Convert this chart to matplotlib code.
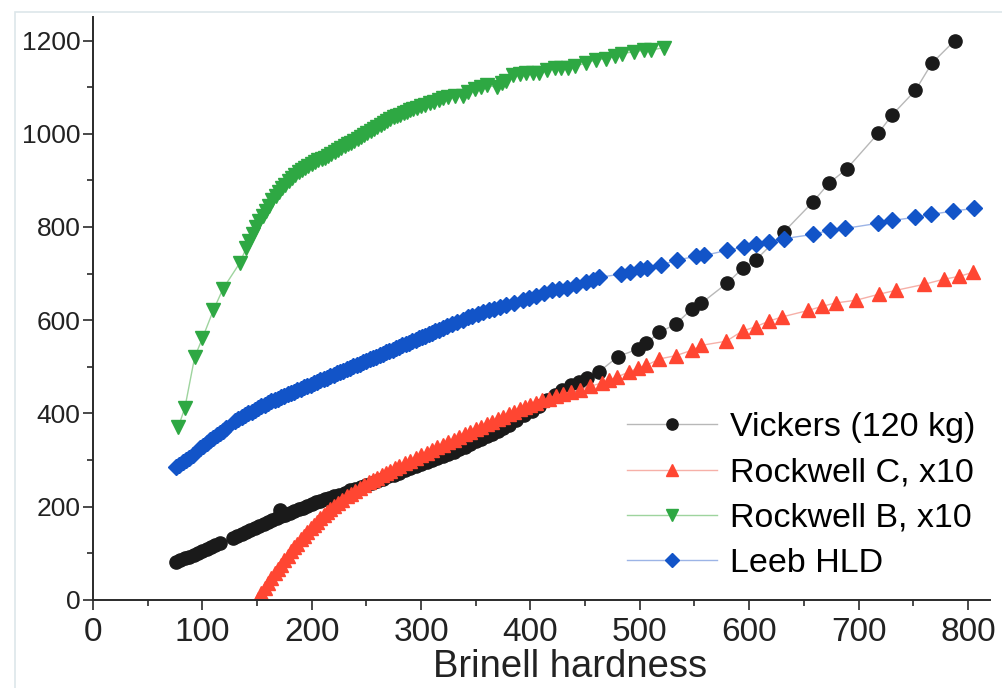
import matplotlib
matplotlib.use("Agg")
import matplotlib.pyplot as plt
from matplotlib.ticker import MultipleLocator
from matplotlib.patches import Rectangle

plt.rcParams["font.family"] = ["Liberation Sans", "DejaVu Sans"]

# Vickers (120 kg) vs Brinell
hv_x = [76, 80, 84, 88, 92, 96, 100, 104, 108, 112, 116,
        128, 132, 136, 140, 144, 148, 152, 156, 160, 164, 168, 171, 172, 176,
        180, 184, 188, 192, 196, 200, 204, 208, 212, 216, 220, 225, 230, 235,
        240, 245, 250, 255, 260, 265, 270, 275, 280, 285, 290, 295, 300, 305,
        310, 315, 320, 325, 330, 335, 340, 345, 350, 355, 360, 365, 370, 375,
        380, 387, 394, 401, 408, 415, 422, 429, 437, 444, 452, 463, 480, 498,
        506, 518, 533, 548, 556, 580, 594, 606, 632, 658, 673, 689, 718, 731,
        752, 767, 788]
hv_y = [81, 85, 89, 93, 97, 101, 105, 109, 113, 118, 122,
        133, 138, 142, 146, 150, 155, 159, 163, 167, 171, 175, 192, 179, 183,
        187, 190, 194, 198, 202, 206, 210, 213, 216, 219, 222, 226, 230, 235,
        239, 243, 247, 251, 256, 260, 265, 269, 273, 278, 283, 287, 292, 296,
        301, 305, 309, 314, 318, 323, 328, 334, 340, 345, 351, 356, 362, 368,
        375, 386, 396, 406, 417, 428, 440, 451, 460, 467, 476, 490, 522, 538,
        551, 574, 592, 625, 636, 680, 711, 729, 790, 853, 894, 924, 1001, 1041,
        1093, 1151, 1200]

# Rockwell C x10 vs Brinell
hrc_x = [151, 154, 157, 160, 163, 166, 169, 172, 175, 178, 181, 184, 187, 190,
         193, 196, 199, 202, 205, 208, 211, 214, 217, 220, 224, 228, 232, 236,
         240, 244, 248, 252, 256, 260, 264, 268, 272, 276, 280, 285, 290, 295,
         300, 305, 310, 315, 320, 325, 330, 335, 340, 345, 350, 355, 360, 365,
         370, 375, 380, 385, 390, 395, 400, 405, 411, 417, 423, 430, 437, 445,
         454, 465, 472, 479, 490, 498, 506, 518, 533, 548, 556, 579, 594, 606,
         618, 630, 654, 667, 679, 698, 719, 734, 760, 778, 792, 805]
hrc_y = [2, 14, 26, 37, 48, 58, 67, 76, 86, 95, 104, 113, 121, 130,
         138, 146, 154, 161, 168, 175, 182, 189, 195, 201, 208, 215, 222, 228,
         234, 240, 246, 252, 257, 262, 267, 272, 277, 282, 287, 293, 299, 305,
         311, 316, 322, 327, 333, 338, 344, 349, 355, 360, 366, 371, 377, 382,
         388, 393, 398, 403, 409, 413, 418, 423, 428, 432, 437, 442, 446, 451,
         458, 465, 471, 478, 489, 497, 503, 517, 524, 536, 546, 555, 577, 586,
         598, 607, 621, 630, 637, 643, 656, 664, 677, 688, 694, 703]

# Rockwell B x10 vs Brinell
hrb_x = [78, 84, 93, 100, 110, 119, 134, 140, 143, 146, 149, 152, 155, 158,
         161, 164, 167, 170, 173, 176, 179, 182, 185, 188, 191, 194, 197, 200,
         203, 206, 209, 212, 215, 218, 221, 224, 227, 230, 233, 236, 239, 242,
         245, 248, 251, 254, 257, 260, 263, 266, 269, 272, 275, 278, 281, 284,
         287, 290, 293, 296, 300, 304, 308, 312, 316, 320, 325, 331, 338, 343,
         349, 355, 360, 369, 374, 378, 384, 390, 396, 402, 408, 415, 422, 428,
         434, 441, 451, 460, 469, 477, 484, 495, 504, 510, 522]
hrb_y = [371, 412, 521, 561, 621, 668, 722, 754, 770, 786, 800, 812, 824, 835,
         846, 857, 867, 876, 884, 891, 898, 905, 911, 917, 922, 927, 931, 935,
         939, 943, 946, 949, 952, 957, 961, 965, 969, 973, 977, 981, 985, 989,
         993, 998, 1002, 1006, 1010, 1014, 1018, 1022, 1027, 1031, 1035, 1038,
         1041, 1044, 1047, 1050, 1053, 1056, 1059, 1062, 1065, 1069, 1073, 1076,
         1079, 1082, 1082, 1090, 1097, 1101, 1104, 1100, 1108, 1114, 1125, 1128,
         1131, 1131, 1131, 1137, 1142, 1141, 1140, 1146, 1151, 1159, 1161, 1166,
         1172, 1176, 1179, 1179, 1185]

# Leeb HLD vs Brinell
hld_x = [76, 79, 82, 85, 88, 91,
         98, 101, 104, 107, 110, 113, 116, 119, 122,
         130, 133, 136, 139, 142, 145, 148, 151, 154, 157, 160, 163, 166, 169,
         172, 175, 178, 181, 184, 187, 190, 193, 196, 199, 202, 205, 208, 211,
         214, 217, 220, 223, 226, 229, 232, 235, 238, 241, 244, 247, 250, 253,
         256, 259, 262, 265, 268, 271, 274, 277, 280, 283, 286, 289, 292, 295,
         298, 301, 304, 307, 310, 313, 316, 320, 324, 328, 333, 338, 343, 347,
         352, 357, 362, 367, 372, 378, 385, 393, 399, 405, 412, 420, 426, 433,
         442, 451, 457, 463, 483, 491, 500, 507, 519, 534, 551, 559, 580, 595,
         606, 618, 632, 658, 674, 688, 718, 731, 752, 766, 786, 806]
hld_y = [285, 290, 295, 300, 305, 310,
         326, 331, 337, 342, 347, 353, 358, 363, 368,
         384, 388, 392, 396, 400, 404, 408, 412, 415, 419, 422, 426, 429, 432,
         435, 438, 441, 444, 447, 450, 453, 456, 459, 462, 465, 468, 471, 474,
         477, 480, 483, 486, 489, 492, 495, 498, 501, 504, 507, 510, 513, 516,
         519, 522, 525, 528, 531, 534, 537, 540, 543, 546, 549, 552, 555, 558,
         561, 564, 567, 570, 573, 576, 579, 583, 587, 591, 596, 601, 606, 610,
         614, 618, 621, 625, 628, 632, 637, 643, 648, 653, 658, 664, 667, 670,
         676, 682, 687, 692, 699, 704, 709, 712, 718, 729, 737, 739, 750, 757,
         764, 768, 775, 784, 793, 797, 808, 814, 821, 827, 834, 840]

fig = plt.figure(figsize=(10.02, 6.88), dpi=100)
ax = fig.add_axes([0.0928, 0.128, 0.895, 0.847])

ax.plot(hv_x, hv_y, "-o", color="#b8b8b8", lw=1, ms=9.5,
        mfc="#1a1a1a", mec="#1a1a1a", label="Vickers (120 kg)")
ax.plot(hrc_x, hrc_y, "-^", color="#f6b0a8", lw=1, ms=9.5,
        mfc="#ff4632", mec="#ff4632", label="Rockwell C, x10")
ax.plot(hrb_x, hrb_y, "-v", color="#9ed49e", lw=1, ms=9.5,
        mfc="#2ea843", mec="#2ea843", label="Rockwell B, x10")
ax.plot(hld_x, hld_y, "-D", color="#9cb4e6", lw=1, ms=8.5,
        mfc="#1254c8", mec="#1254c8", label="Leeb HLD")

ax.set_xlim(0, 820)
ax.set_ylim(0, 1250)
ax.xaxis.set_major_locator(MultipleLocator(100))
ax.xaxis.set_minor_locator(MultipleLocator(50))
ax.yaxis.set_major_locator(MultipleLocator(200))
ax.yaxis.set_minor_locator(MultipleLocator(100))

for side in ("top", "right"):
    ax.spines[side].set_visible(False)
for side in ("left", "bottom"):
    ax.spines[side].set_color("#2a2a2a")
    ax.spines[side].set_linewidth(1.4)

ax.tick_params(which="both", direction="out", color="#2a2a2a", width=1.2)
ax.tick_params(which="major", length=7)
ax.tick_params(which="minor", length=4)
ax.tick_params(axis="x", labelsize=24, pad=5, labelcolor="#222222")
ax.tick_params(axis="y", labelsize=19, pad=2, labelcolor="#222222")

ax.set_xlabel("Brinell hardness", fontsize=27.5, color="#222222")
ax.xaxis.set_label_coords(0.532, -0.085)

ax.legend(loc="upper left", bbox_to_anchor=(0.595, 0.322), frameon=False,
          fontsize=24.5, handlelength=2.65, handletextpad=0.38, labelspacing=0.42,
          borderpad=0, borderaxespad=0, numpoints=1, markerscale=0.85)

# faint scan border
fig.patches.append(Rectangle((0.015, -0.01), 1.0, 0.992, transform=fig.transFigure,
                             fill=False, ec="#dde6ea", lw=1.2))

fig.savefig("out.png", dpi=100)
